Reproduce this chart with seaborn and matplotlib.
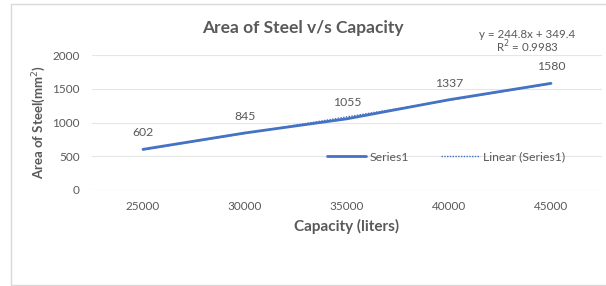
import numpy as np
import pandas as pd
import matplotlib
matplotlib.use("Agg")
import matplotlib.pyplot as plt
import seaborn as sns
from matplotlib.patches import Rectangle

# data
capacity = ["25000", "30000", "35000", "40000", "45000"]
area_steel = [602, 845, 1055, 1337, 1580]
y_ticks = [0, 500, 1000, 1500, 2000]

sns.set_theme(style="white")
plt.rcParams["font.family"] = ["Lato", "DejaVu Sans"]

GREY = "#595959"
BLUE = "#4472C4"

df = pd.DataFrame({"Capacity": capacity, "Area": area_steel})
df["pos"] = np.arange(len(df))

fig = plt.figure(figsize=(6.06, 2.86), dpi=100)
ax = fig.add_axes([92 / 606, 1 - 190 / 286, 510 / 606, 135 / 286])

# chart frame
fig.patches.append(Rectangle((11 / 606, 1 / 286), 600 / 606, 281 / 286,
                             transform=fig.transFigure, fill=False,
                             edgecolor="#d9d9d9", linewidth=1.0))

sns.lineplot(data=df, x="pos", y="Area", ax=ax, color=BLUE, linewidth=2,
             label="Series1")

# linear trendline (Excel uses x = 1..n)
m, b = np.polyfit(df["pos"] + 1, df["Area"], 1)
trend = m * (df["pos"] + 1) + b
ax.plot(df["pos"], trend, linestyle=(0, (1, 1)), color=BLUE, linewidth=1,
        label="Linear (Series1)")

for x, y in zip(df["pos"], df["Area"]):
    ax.annotate(str(y), (x, y), xytext=(0, 12), textcoords="offset points",
                ha="center", va="center", fontsize=8.8, color=GREY)

ax.set_xlim(-0.5, len(df) - 0.5)
ax.set_ylim(0, 2000)
ax.set_yticks(y_ticks)
ax.set_xticks(df["pos"])
ax.set_xticklabels(capacity)
ax.tick_params(axis="both", labelsize=8.5, labelcolor=GREY, length=0)
ax.tick_params(axis="y", pad=9)
ax.tick_params(axis="x", pad=8)
ax.grid(axis="y", color="#e6e6e6", linewidth=0.8)
for s in ax.spines.values():
    s.set_visible(False)
ax.axhline(0, color="#d9d9d9", linewidth=0.8)

ax.set_xlabel("Capacity (liters)", fontsize=11, fontweight="bold",
              color=GREY, labelpad=5)
ax.set_ylabel("Area of Steel(mm$^2$)", fontsize=9.5, fontweight="bold",
              color=GREY, labelpad=3)

fig.text(303 / 606, 1 - 28 / 286, "Area of Steel v/s Capacity", ha="center",
         va="center", fontsize=12.5, fontweight="bold", color=GREY)
fig.text(527 / 606, 1 - 34 / 286, f"y = {m:.1f}x + {b:.1f}", ha="center",
         va="center", fontsize=8.3, color=GREY)
fig.text(527 / 606, 1 - 47 / 286, "R$^2$ = 0.9983", ha="center",
         va="center", fontsize=8.3, color=GREY)

ax.legend(loc="center", bbox_to_anchor=(0.694, 0.244), ncol=2, frameon=False,
          fontsize=8.8, labelcolor=GREY, handlelength=3.2, columnspacing=2.6,
          handletextpad=0.25)

fig.savefig("out.png", dpi=100)
